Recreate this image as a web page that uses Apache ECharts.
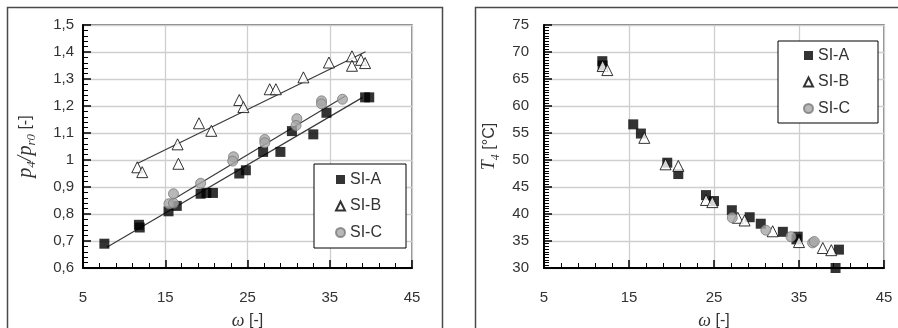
<!DOCTYPE html>
<html>
<head>
<meta charset="utf-8">
<script src="https://cdn.jsdelivr.net/npm/echarts@6/dist/echarts.min.js"></script>
<style>html,body{margin:0;padding:0;background:#fff;overflow:hidden}#l{position:absolute;left:0;top:0;width:460px;height:328px}#r{position:absolute;left:460px;top:0;width:438px;height:328px}</style>
</head>
<body>
<div id="l"></div><div id="r"></div>
<script>
// ---- Left panel: pressure ratio p4/pr0 vs omega ----
const leftOmegaA = [7.6, 11.9, 11.8, 15.4, 16.4, 19.3, 20.0, 20.8, 24.0, 24.8, 26.9, 29.0, 30.4, 33.0, 34.6, 39.3, 39.8];
const leftRatioA = [0.69, 0.75, 0.76, 0.81, 0.83, 0.875, 0.878, 0.878, 0.95, 0.962, 1.03, 1.03, 1.107, 1.095, 1.175, 1.232, 1.232];
const leftOmegaB = [11.6, 12.2, 16.5, 16.6, 19.1, 20.6, 24.0, 24.5, 27.7, 28.45, 31.8, 34.9, 37.7, 37.7, 38.8, 39.3];
const leftRatioB = [0.973, 0.955, 1.058, 0.986, 1.136, 1.108, 1.222, 1.196, 1.262, 1.262, 1.306, 1.361, 1.384, 1.349, 1.371, 1.359];
const leftOmegaC = [15.45, 16.0, 16.0, 19.3, 23.3, 23.2, 27.1, 27.1, 31.0, 30.9, 34.0, 34.0, 36.55];
const leftRatioC = [0.838, 0.875, 0.84, 0.914, 1.012, 0.996, 1.076, 1.064, 1.153, 1.128, 1.219, 1.208, 1.225];
const trendOmegaA = [7.9, 39.0];
const trendRatioA = [0.677, 1.232];
const trendOmegaB = [11.6, 39.35];
const trendRatioB = [0.987, 1.401];
const trendOmegaC = [15.6, 36.9];
const trendRatioC = [0.847, 1.237];

// ---- Right panel: temperature T4 vs omega ----
const rightOmegaA = [11.86, 11.9, 15.5, 16.4, 19.5, 20.8, 24.06, 25.0, 27.1, 29.2, 30.5, 33.1, 34.85, 34.7, 39.7, 39.3];
const rightTempA = [68.3, 67.5, 56.6, 54.9, 49.5, 47.4, 43.5, 42.4, 40.7, 39.4, 38.2, 36.7, 35.8, 35.3, 33.4, 30.0];
const rightOmegaB = [11.9, 12.45, 16.8, 19.3, 20.8, 24.06, 24.8, 27.8, 28.6, 31.9, 35.0, 37.8, 38.8];
const rightTempB = [67.4, 66.65, 54.1, 49.2, 48.9, 42.6, 42.2, 39.3, 38.8, 36.8, 34.8, 33.7, 33.3];
const rightOmegaC = [27.15, 31.1, 34.05, 36.6, 36.8];
const rightTempC = [39.3, 37.0, 35.8, 34.65, 34.9];

const seriesNames = ['SI-A', 'SI-B', 'SI-C'];
const xTicks = [5, 15, 25, 35, 45];
const leftYRange = [0.6, 1.5];
const rightYRange = [30, 75];

function zip(a, b) { return a.map((v, i) => [v, b[i]]); }

const SANS = 'Liberation Sans';
const SERIF = 'Liberation Serif';
const labelColor = '#333';

const styleA = { color: '#000', borderColor: '#000', borderWidth: 0 };
const styleB = { color: '#fff', borderColor: '#000', borderWidth: 1 };
const styleC = { color: '#a6a6a6', borderColor: '#7a7a7a', borderWidth: 1 };

function richName(big) {
  return {
    i: { fontFamily: SERIF, fontStyle: 'italic', fontSize: big ? 20 : 18, color: labelColor, lineHeight: 24, verticalAlign: 'middle' },
    s: { fontFamily: SERIF, fontStyle: 'italic', fontSize: big ? 13 : 12, color: labelColor, lineHeight: 24, verticalAlign: 'bottom' },
    n: { fontFamily: SANS, fontSize: 16, color: labelColor, lineHeight: 24, verticalAlign: 'middle' }
  };
}

function commaFmt(v) { return String(Math.round(v * 10) / 10).replace('.', ','); }

function panel(cfg) {
  return {
    animation: false,
    backgroundColor: '#fff',
    graphic: [
      { type: 'rect', shape: cfg.frame, style: { fill: 'none', stroke: '#4a4a4a', lineWidth: 1.5 }, z: 100, silent: true }
    ],
    grid: [{ left: cfg.gridLeft, right: cfg.gridRight, top: 25, bottom: 60, outerBoundsMode: 'none',
      show: true, borderColor: '#555', borderWidth: 1.3, backgroundColor: 'transparent' }],
    legend: [{
      left: cfg.legendLeft, top: cfg.legendTop, orient: 'vertical', data: seriesNames,
      itemWidth: 9, itemHeight: 9, itemGap: 9.5,
      padding: cfg.legendPad, backgroundColor: '#fff', borderColor: '#000', borderWidth: 1,
      textStyle: { fontFamily: SANS, fontSize: 16, color: labelColor, lineHeight: 17 },
      selectedMode: false
    }],
    xAxis: [{
      gridIndex: 0, type: 'value', min: xTicks[0], max: xTicks[xTicks.length - 1], interval: 10,
      axisLine: { show: true, onZero: false, lineStyle: { color: '#000', width: 2 } },
      axisTick: { show: true, inside: true, length: 8, lineStyle: { color: '#000', width: 1.5 } },
      minorTick: { show: true, splitNumber: 5, length: 5, lineStyle: { color: '#000', width: 1 } },
      axisLabel: { margin: 22, fontFamily: SANS, fontSize: 15, color: labelColor },
      splitLine: { show: true, lineStyle: { color: '#cfcfcf', width: 1.3 } },
      name: '{i|ω}{n| [-]}', nameLocation: 'middle', nameGap: 41,
      nameTextStyle: { rich: richName(false) }
    }],
    yAxis: [{
      gridIndex: 0, type: 'value', min: cfg.yRange[0], max: cfg.yRange[1], interval: cfg.yInterval,
      axisLine: { show: true, onZero: false, lineStyle: { color: '#000', width: 2 } },
      axisTick: { show: true, inside: true, length: 8, lineStyle: { color: '#000', width: 1.5 } },
      minorTick: { show: true, splitNumber: cfg.yMinor, length: 5, lineStyle: { color: '#000', width: 1 } },
      axisLabel: { margin: cfg.yMargin, fontFamily: SANS, fontSize: 15, color: labelColor, formatter: cfg.yFmt },
      splitLine: { show: true, lineStyle: { color: '#cfcfcf', width: 1.3 } },
      name: cfg.yName, nameLocation: 'middle', nameGap: cfg.yGap,
      nameTextStyle: { rich: richName(cfg.bigName) }
    }],
    series: cfg.series
  };
}

function scatter(name, data, style, symbol) {
  return {
    name: name, type: 'scatter', xAxisIndex: 0, yAxisIndex: 0, data: data,
    symbol: symbol, symbolSize: symbol === 'triangle' ? 11 : 10, itemStyle: style,
    emphasis: { disabled: true }, z: 3
  };
}
function trend(data) {
  return {
    type: 'line', xAxisIndex: 0, yAxisIndex: 0, data: data, symbol: 'none',
    lineStyle: { color: '#3a3a3a', width: 1.2 }, z: 2, silent: true
  };
}

echarts.init(document.getElementById('l')).setOption(panel({
  frame: { x: 7.5, y: 7.5, width: 435, height: 340 },
  gridLeft: 83, gridRight: 48,
  legendLeft: 314, legendTop: 164, legendPad: [7, 24, 7, 21],
  yRange: leftYRange, yInterval: 0.1, yMinor: 5, yMargin: 9, yFmt: commaFmt,
  yName: '{i|p}{s|4}{i|/p}{s|r0}{n| [-]}', yGap: 45, bigName: true,
  series: [
    trend(zip(trendOmegaA, trendRatioA)),
    trend(zip(trendOmegaB, trendRatioB)),
    trend(zip(trendOmegaC, trendRatioC)),
    scatter('SI-A', zip(leftOmegaA, leftRatioA), styleA, 'rect'),
    scatter('SI-B', zip(leftOmegaB, leftRatioB), styleB, 'triangle'),
    scatter('SI-C', zip(leftOmegaC, leftRatioC), styleC, 'circle')
  ]
}));

echarts.init(document.getElementById('r')).setOption(panel({
  frame: { x: 15.5, y: 7.5, width: 440, height: 340 },
  gridLeft: 84, gridRight: 14,
  legendLeft: 318, legendTop: 41, legendPad: [6, 28, 6, 25],
  yRange: rightYRange, yInterval: 5, yMinor: 10, yMargin: 15, yFmt: v => String(v),
  yName: '{i|T}{s|4}{n| [°C]}', yGap: 42, bigName: false,
  series: [
    scatter('SI-A', zip(rightOmegaA, rightTempA), styleA, 'rect'),
    scatter('SI-B', zip(rightOmegaB, rightTempB), styleB, 'triangle'),
    scatter('SI-C', zip(rightOmegaC, rightTempC), styleC, 'circle')
  ]
}));
</script>
</body>
</html>
